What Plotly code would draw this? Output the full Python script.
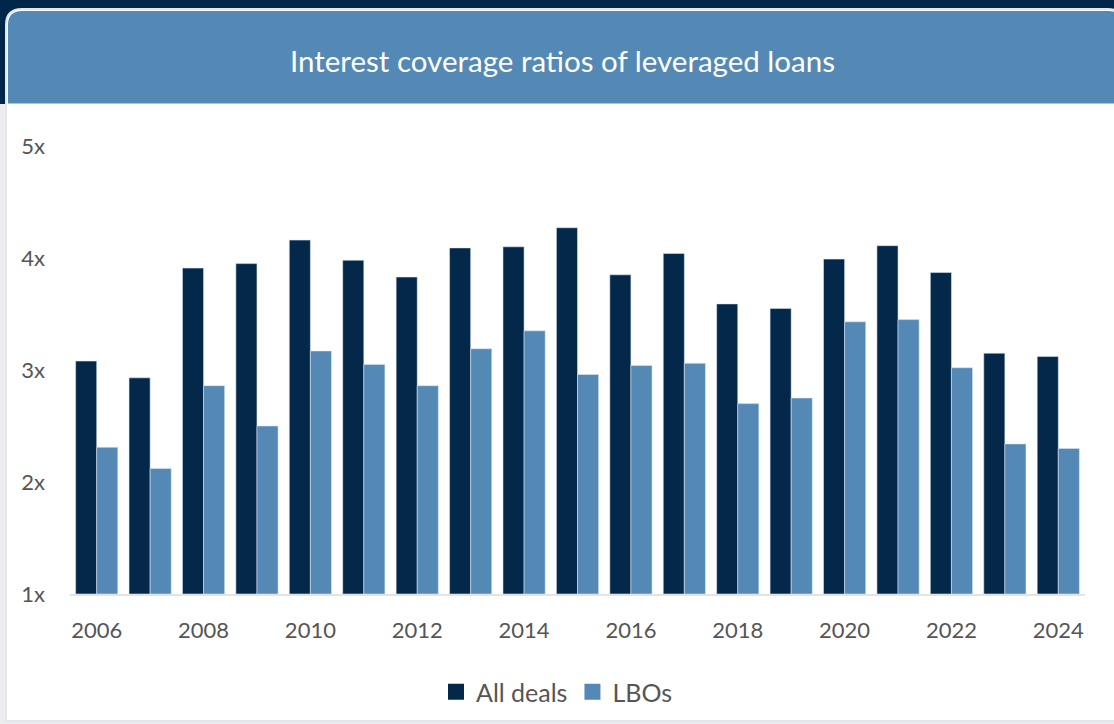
import plotly.graph_objects as go

W, H = 1114, 724

years = [str(y) for y in range(2006, 2025)]
all_deals = [3.08, 2.93, 3.91, 3.95, 4.16, 3.98, 3.83, 4.09, 4.10, 4.27,
             3.85, 4.04, 3.59, 3.55, 3.99, 4.11, 3.87, 3.15, 3.12]
lbos = [2.31, 2.12, 2.86, 2.50, 3.17, 3.05, 2.86, 3.19, 3.35, 2.96,
        3.04, 3.06, 2.70, 2.75, 3.43, 3.45, 3.02, 2.34, 2.30]
x_ticks = [str(y) for y in range(2006, 2025, 2)]
y_ticks = [1, 2, 3, 4, 5]
y_tick_text = ["1x", "2x", "3x", "4x", "5x"]
series_names = ["All deals", "LBOs"]
title_text = "Interest coverage ratios of leveraged loans"

NAVY = "#03284a"
BLUE = "#5489b6"
FONT = "Lato"
GREY_TXT = "#555555"


def px(x):
    return x / W


def py(y):
    return 1 - y / H


def rounded_top(x0, y0, x1, y1, r):
    """Path for a box with rounded top corners, pixel coords -> paper coords."""
    return (
        f"M {px(x0)},{py(y1)} "
        f"L {px(x0)},{py(y0 + r)} "
        f"Q {px(x0)},{py(y0)} {px(x0 + r)},{py(y0)} "
        f"L {px(x1 - r)},{py(y0)} "
        f"Q {px(x1)},{py(y0)} {px(x1)},{py(y0 + r)} "
        f"L {px(x1)},{py(y1)} Z"
    )


fig = go.Figure()
for name, vals, col in [(series_names[0], all_deals, NAVY), (series_names[1], lbos, BLUE)]:
    fig.add_trace(go.Bar(x=years, y=[v - 1 for v in vals], base=1, name=name,
                         marker=dict(color=col, line=dict(width=0.8, color="rgba(220,232,244,0.7)")),
                         showlegend=False))
# legend entries with larger square swatches
for name, col in [(series_names[0], NAVY), (series_names[1], BLUE)]:
    fig.add_trace(go.Scatter(x=[None], y=[None], mode="markers", name=name,
                             marker=dict(symbol="square", size=16, color=col)))

shapes = [
    # dark band behind the top of the card
    dict(type="rect", xref="paper", yref="paper", x0=0, x1=1, y0=py(104), y1=1,
         fillcolor="#00264a", line=dict(width=0), layer="below"),
    # white card
    dict(type="path", xref="paper", yref="paper",
         path=rounded_top(6, 9, 1124, 721, 16),
         fillcolor="white", line=dict(color="#dfe6ee", width=2), layer="below"),
    # header band
    dict(type="path", xref="paper", yref="paper",
         path=rounded_top(8, 11, 1122, 103, 14),
         fillcolor=BLUE, line=dict(width=0), layer="below"),
    dict(type="line", xref="paper", yref="paper", x0=px(8), x1=1, y0=py(103.5), y1=py(103.5),
         line=dict(color="#a9c4dc", width=1), layer="below"),
]

fig.update_layout(
    template="none",
    width=W, height=H,
    margin=dict(l=0, r=0, t=0, b=0, pad=0),
    paper_bgcolor="#ececec",
    plot_bgcolor="rgba(0,0,0,0)",
    barmode="group",
    bargap=0.21,
    bargroupgap=0,
    shapes=shapes,
    font=dict(family=FONT, color=GREY_TXT),
    showlegend=True,
    legend=dict(orientation="h", x=0.5, xanchor="center", y=py(692), yanchor="middle",
                font=dict(size=25, color=GREY_TXT, family=FONT),
                traceorder="normal", bgcolor="rgba(0,0,0,0)", borderwidth=0,
                itemwidth=30, tracegroupgap=0),
    annotations=[
        dict(text=title_text, xref="paper", yref="paper", x=px(562), y=py(60),
             xanchor="center", yanchor="middle", showarrow=False,
             font=dict(size=29.5, color="white", family=FONT)),
    ],
    xaxis=dict(
        type="category",
        domain=[px(70), px(1085)],
        tickmode="array", tickvals=x_ticks, ticktext=x_ticks,
        showgrid=False, zeroline=False,
        showline=True, linecolor="#e3e3e3", linewidth=2,
        ticks="", ticklabelstandoff=16, automargin=False,
        tickfont=dict(size=22, color=GREY_TXT, family=FONT),
        fixedrange=True,
    ),
    yaxis=dict(
        domain=[py(594), py(146)],
        range=[1, 5],
        tickmode="array", tickvals=y_ticks, ticktext=y_tick_text,
        showgrid=False, zeroline=False, showline=False,
        ticks="", ticklabelstandoff=24, automargin=False,
        tickfont=dict(size=22, color=GREY_TXT, family=FONT),
        fixedrange=True,
    ),
)

fig.write_html("out.html")
